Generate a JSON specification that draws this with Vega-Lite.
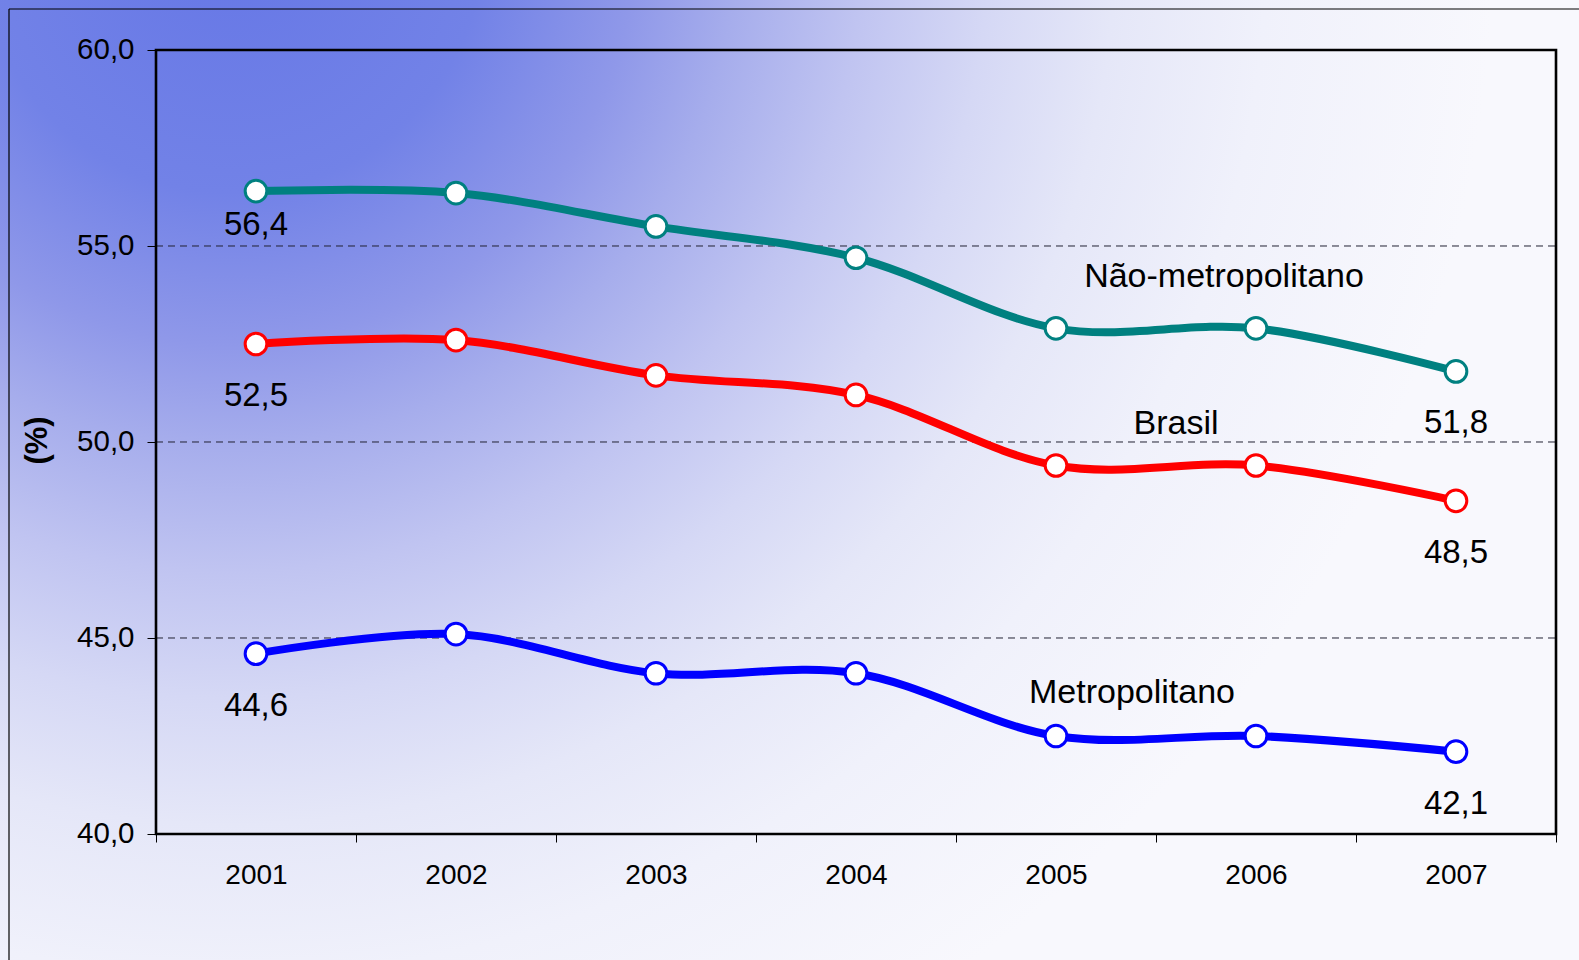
{
  "$schema": "https://vega.github.io/schema/vega-lite/v6.json",
  "width": 1579,
  "height": 960,
  "padding": 0,
  "autosize": {"type": "none"},
  "background": "#f8f8fd",
  "view": {
    "stroke": null,
    "fill": {
      "gradient": "radial",
      "x1": 0.146, "y1": 0.158, "r1": 0,
      "x2": 0.146, "y2": 0.158, "r2": 0.8,
      "stops": [
        {"offset": 0, "color": "#6677e6"},
        {"offset": 0.2, "color": "#7282e7"},
        {"offset": 0.32, "color": "#8f98e9"},
        {"offset": 0.4, "color": "#a6adec"},
        {"offset": 0.5, "color": "#c0c4f1"},
        {"offset": 0.6, "color": "#d5d8f5"},
        {"offset": 0.7, "color": "#e5e7f8"},
        {"offset": 0.82, "color": "#f0f1fb"},
        {"offset": 1, "color": "#f8f8fd"}
      ]
    }
  },
  "config": {
    "font": "Liberation Sans",
    "locale": {"number": {"decimal": ",", "thousands": ".", "grouping": [3], "currency": ["R$ ", ""]}}
  },
  "datasets": {
    "series": [
      {"series": "Não-metropolitano", "year": 2001, "value": 56.4},
      {"series": "Não-metropolitano", "year": 2002, "value": 56.35},
      {"series": "Não-metropolitano", "year": 2003, "value": 55.5},
      {"series": "Não-metropolitano", "year": 2004, "value": 54.7},
      {"series": "Não-metropolitano", "year": 2005, "value": 52.9},
      {"series": "Não-metropolitano", "year": 2006, "value": 52.9},
      {"series": "Não-metropolitano", "year": 2007, "value": 51.8},
      {"series": "Brasil", "year": 2001, "value": 52.5},
      {"series": "Brasil", "year": 2002, "value": 52.6},
      {"series": "Brasil", "year": 2003, "value": 51.7},
      {"series": "Brasil", "year": 2004, "value": 51.2},
      {"series": "Brasil", "year": 2005, "value": 49.4},
      {"series": "Brasil", "year": 2006, "value": 49.4},
      {"series": "Brasil", "year": 2007, "value": 48.5},
      {"series": "Metropolitano", "year": 2001, "value": 44.6},
      {"series": "Metropolitano", "year": 2002, "value": 45.1},
      {"series": "Metropolitano", "year": 2003, "value": 44.1},
      {"series": "Metropolitano", "year": 2004, "value": 44.1},
      {"series": "Metropolitano", "year": 2005, "value": 42.5},
      {"series": "Metropolitano", "year": 2006, "value": 42.5},
      {"series": "Metropolitano", "year": 2007, "value": 42.1}
    ],
    "names": [
      {"name": "Não-metropolitano", "x": 2005.84, "y": 54.26},
      {"name": "Brasil", "x": 2005.6, "y": 50.5},
      {"name": "Metropolitano", "x": 2005.38, "y": 43.66}
    ],
    "grid": [{"v": 45}, {"v": 50}, {"v": 55}]
  },
  "layer": [
    {
      "data": {"values": [{}]},
      "mark": {"type": "rule", "color": "black", "strokeWidth": 1.2},
      "encoding": {
        "x": {"datum": 1999.765, "type": "quantitative", "scale": {"domain": [1999.72, 2007.615], "nice": false, "zero": false}},
        "y": {"datum": 36.7857, "type": "quantitative", "scale": {"domain": [36.7857, 61.2755], "nice": false, "zero": false}},
        "y2": {"datum": 61.046}
      }
    },
    {
      "data": {"values": [{}]},
      "mark": {"type": "rule", "color": "black", "strokeWidth": 1.2},
      "encoding": {
        "x": {"datum": 1999.765, "type": "quantitative"},
        "x2": {"datum": 2007.615},
        "y": {"datum": 61.046, "type": "quantitative"}
      }
    },
    {
      "data": {"name": "grid"},
      "mark": {"type": "rule", "color": "#222233", "strokeWidth": 1, "strokeDash": [7, 5]},
      "encoding": {
        "x": {"datum": 2000.5, "type": "quantitative"},
        "x2": {"datum": 2007.5},
        "y": {"field": "v", "type": "quantitative"}
      }
    },
    {
      "data": {"values": [{}]},
      "mark": {"type": "rect", "filled": false, "stroke": "black", "strokeWidth": 2.6},
      "encoding": {
        "x": {"datum": 2000.5, "type": "quantitative"},
        "x2": {"datum": 2007.5},
        "y": {"datum": 40, "type": "quantitative"},
        "y2": {"datum": 60}
      }
    },
    {
      "data": {"name": "series"},
      "mark": {"type": "line", "interpolate": "cardinal", "tension": 0, "strokeWidth": 8},
      "encoding": {
        "x": {
          "field": "year", "type": "quantitative",
          "scale": {"domain": [1999.72, 2007.615], "nice": false, "zero": false},
          "axis": {
            "orient": "bottom", "offset": -126, "title": null, "domain": false, "grid": false,
            "values": [2000.5, 2001.5, 2002.5, 2003.5, 2004.5, 2005.5, 2006.5, 2007.5],
            "labelExpr": "datum.value < 2007 ? format(datum.value + 0.5, 'd') : ''",
            "labelOffset": 100, "labelFlush": false, "labelOverlap": false, "labelBound": false,
            "ticks": true, "tickSize": 8, "tickColor": "black", "tickWidth": 1,
            "labelFont": "Liberation Sans", "labelFontSize": 28, "labelColor": "black", "labelPadding": 19
          }
        },
        "y": {
          "field": "value", "type": "quantitative",
          "scale": {"domain": [36.7857, 61.2755], "nice": false, "zero": false},
          "axis": {
            "orient": "left", "offset": -156, "title": "(%)", "domain": false, "grid": false,
            "values": [40, 45, 50, 55, 60], "format": ".1f",
            "labelFlush": false, "labelOverlap": false, "labelBound": false,
            "ticks": true, "tickSize": 9, "tickColor": "black", "tickWidth": 1,
            "labelFont": "Liberation Sans", "labelFontSize": 29.5, "labelColor": "black", "labelPadding": 13,
            "titleFont": "Liberation Sans", "titleFontSize": 31, "titleFontWeight": "bold", "titleColor": "black",
            "titlePadding": 23, "titleY": 440
          }
        },
        "color": {
          "field": "series", "type": "nominal",
          "scale": {"domain": ["Não-metropolitano", "Brasil", "Metropolitano"], "range": ["#008080", "#ff0000", "#0000ff"]},
          "legend": null
        },
        "detail": {"field": "series"}
      }
    },
    {
      "data": {"name": "series"},
      "mark": {"type": "point", "filled": false, "fill": "white", "fillOpacity": 1, "opacity": 1, "size": 470, "strokeWidth": 3},
      "encoding": {
        "x": {"field": "year", "type": "quantitative"},
        "y": {"field": "value", "type": "quantitative"},
        "color": {"field": "series", "type": "nominal", "legend": null}
      }
    },
    {
      "data": {"name": "series"},
      "transform": [{"filter": "datum.year == 2007 || (datum.year == 2001 && datum.series != 'Não-metropolitano')"}],
      "mark": {"type": "text", "dy": 52, "fontSize": 33, "font": "Liberation Sans", "color": "black", "align": "center", "baseline": "middle"},
      "encoding": {
        "x": {"field": "year", "type": "quantitative"},
        "y": {"field": "value", "type": "quantitative"},
        "text": {"field": "value", "type": "quantitative", "format": ".1f"}
      }
    },
    {
      "data": {"name": "series"},
      "transform": [{"filter": "datum.year == 2001 && datum.series == 'Não-metropolitano'"}],
      "mark": {"type": "text", "dy": 34, "fontSize": 33, "font": "Liberation Sans", "color": "black", "align": "center", "baseline": "middle"},
      "encoding": {
        "x": {"field": "year", "type": "quantitative"},
        "y": {"field": "value", "type": "quantitative"},
        "text": {"field": "value", "type": "quantitative", "format": ".1f"}
      }
    },
    {
      "data": {"name": "names"},
      "mark": {"type": "text", "dy": 2, "fontSize": 34, "font": "Liberation Sans", "color": "black", "align": "center", "baseline": "middle"},
      "encoding": {
        "x": {"field": "x", "type": "quantitative"},
        "y": {"field": "y", "type": "quantitative"},
        "text": {"field": "name"}
      }
    }
  ]
}
